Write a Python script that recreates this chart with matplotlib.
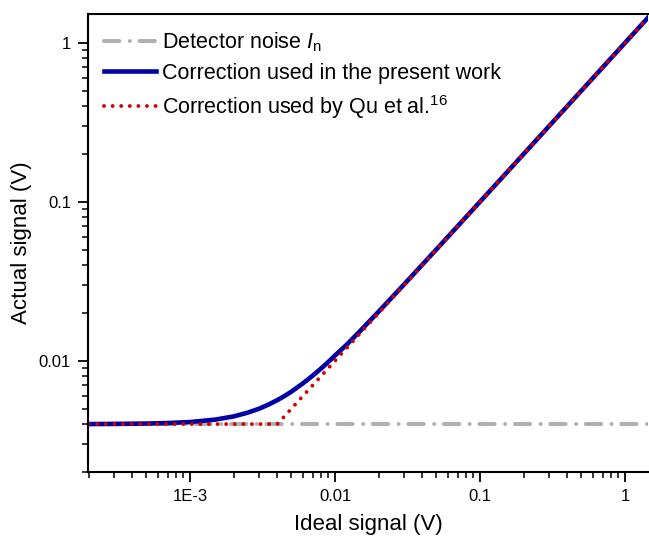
import numpy as np
import matplotlib
matplotlib.use('Agg')
import matplotlib.pyplot as plt

plt.rcParams['font.family'] = ['Liberation Sans', 'DejaVu Sans']
plt.rcParams['mathtext.fontset'] = 'custom'
plt.rcParams['mathtext.rm'] = 'Liberation Sans'
plt.rcParams['mathtext.it'] = 'Liberation Sans:italic'

# detector noise level (V)
noise_x = [2e-4, 1.44]
noise_y = [0.004, 0.004]

# correction used in the present work
blue_x = [2e-4, 3e-4, 5e-4, 7e-4, 1e-3, 1.5e-3, 2e-3, 2.5e-3, 3e-3, 3.5e-3, 4e-3, 4.5e-3,
          5e-3, 6e-3, 7e-3, 8e-3, 9e-3, 0.01, 0.012, 0.015, 0.02, 0.03, 0.05, 0.1, 0.2, 0.5, 1.0, 1.44]
blue_y = [0.004, 0.00401, 0.00403, 0.00406, 0.00412, 0.00427, 0.00447, 0.00472, 0.005, 0.00532,
          0.00566, 0.00602, 0.0064, 0.00721, 0.00806, 0.00894, 0.00985, 0.0108, 0.0126, 0.0155,
          0.0204, 0.0303, 0.0502, 0.1001, 0.2, 0.5, 1.0, 1.44]

# correction used by Qu et al.
red_x = [2e-4, 4e-3, 1.44]
red_y = [0.004, 0.004, 1.44]

fig = plt.figure(figsize=(6.49, 5.4), dpi=100)
ax = fig.add_axes([0.1356, 0.126, 0.863, 0.848])

ax.plot(noise_x, noise_y, color='#b0b0b0', lw=2.9, linestyle=(0, (3.8, 2.6, 0.01, 2.4)),
        dash_capstyle='round', label=r'Detector noise $\mathit{I}_{\mathrm{n}}$')
ax.plot(blue_x, blue_y, color='#0000a4', lw=3.3, label='Correction used in the present work')
ax.plot(red_x, red_y, color='#d40000', lw=2.8, linestyle=(0, (0.01, 2.2)), dash_capstyle='round',
        label=r'Correction used by Qu et al.$^{16}$')

ax.set_xscale('log')
ax.set_yscale('log')
ax.set_xlim(1.98e-4, 1.44)
ax.set_ylim(0.002, 1.515)

ax.set_xticks([1e-3, 0.01, 0.1, 1])
ax.set_xticklabels(['1E-3', '0.01', '0.1', '1'])
ax.set_yticks([0.01, 0.1, 1])
ax.set_yticklabels(['0.01', '0.1', '1'])

ax.tick_params(which='major', length=7.2, width=1.3, labelsize=12, direction='out', pad=5)
ax.tick_params(which='minor', length=4.3, width=1.1, direction='out')
for s in ['left', 'bottom', 'top']:
    ax.spines[s].set_linewidth(1.5)
ax.spines['right'].set_visible(False)

ax.set_xlabel('Ideal signal (V)', fontsize=16, labelpad=7)
ax.set_ylabel('Actual signal (V)', fontsize=16, labelpad=5)

ax.legend(loc='upper left', frameon=False, fontsize=15.5, handlelength=2.4, handletextpad=0.3,
          labelspacing=0.42, borderaxespad=0.45, borderpad=0.3, bbox_to_anchor=(0.0, 1.0))

fig.savefig('out.png', dpi=100)
